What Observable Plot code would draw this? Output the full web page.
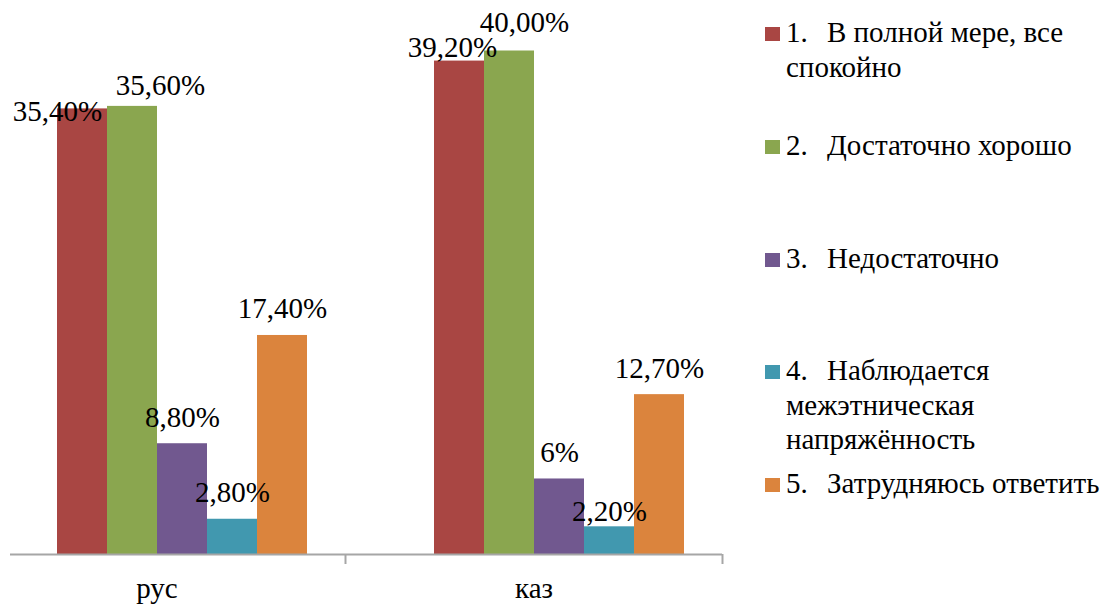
<!DOCTYPE html>
<html><head><meta charset="utf-8">
<script src="https://cdn.jsdelivr.net/npm/d3@7"></script>
<script src="https://cdn.jsdelivr.net/npm/@observablehq/plot@0.6"></script>
<style>
body{margin:0;background:#fff;width:1113px;height:605px;overflow:hidden;position:relative;font-family:"Liberation Serif","Tinos","Times New Roman","DejaVu Serif",serif;}
#chart{position:absolute;left:10px;top:0;}
#legend{position:absolute;left:765px;top:0;}
.item{position:absolute;left:0;width:345px;}
.sw{position:absolute;left:0;top:12px;width:15px;height:14px;}
.ln{position:absolute;font-size:29px;line-height:34.5px;color:#000;white-space:nowrap;}
</style></head><body>
<div id="chart"></div><div id="legend"></div>
<script>
// ---- data ----
const groups = ["рус", "каз"];
const seriesNumbers = ["1.", "2.", "3.", "4.", "5."];
const seriesNames = ["В полной мере, все спокойно", "Достаточно хорошо", "Недостаточно", "Наблюдается межэтническая напряжённость", "Затрудняюсь ответить"];
const rusValues = [35.4, 35.6, 8.8, 2.8, 17.4];
const kazValues = [39.2, 40.0, 6.0, 2.2, 12.7];
const rusLabels = ["35,40%", "35,60%", "8,80%", "2,80%", "17,40%"];
const kazLabels = ["39,20%", "40,00%", "6%", "2,20%", "12,70%"];
const colors = ["#A94643", "#8AA64F", "#71588F", "#4198AF", "#DB843D"];

// ---- layout tweaks for label placement (labels moved by hand in the original) ----
const labelNudges = [
  {group: "рус", series: "1.", dx: -25, dy: 12},
  {group: "рус", series: "2.", dx: 28, dy: -11},
  {group: "каз", series: "1.", dx: -7, dy: -4},
  {group: "каз", series: "2.", dx: 15, dy: -19},
  {group: "каз", series: "4.", dx: 0, dy: -6}
];

const data = [];
seriesNumbers.forEach((s, i) => {
  data.push({group: groups[0], series: s, value: rusValues[i], label: rusLabels[i]});
  data.push({group: groups[1], series: s, value: kazValues[i], label: kazLabels[i]});
});

const font = "'Liberation Serif', Tinos, 'Times New Roman', 'DejaVu Serif', serif";
const fxRange = [-42, 712];
const step = (fxRange[1] - fxRange[0]) / groups.length;
const isNudged = d => labelNudges.some(n => n.group === d.group && n.series === d.series);

const marks = [
  Plot.barY(data, {fx: "group", x: "series", y: "value", fill: "series"}),
  Plot.ruleY([0], {stroke: "#a6a6a6", strokeWidth: 2}),
  Plot.axisFx({anchor: "bottom", tickSize: 0, tickPadding: 23, fontSize: 29, fontFamily: font, fill: "#000", label: null}),
  Plot.axisFx({anchor: "bottom", tickSize: 10, tickFormat: () => "", dx: step / 2, stroke: "#a6a6a6", strokeWidth: 2, label: null}),
  Plot.text(data.filter(d => !isNudged(d)), {fx: "group", x: "series", y: "value", text: "label", lineAnchor: "bottom", dy: -17, fontSize: 29, fontFamily: font, fill: "#000"})
];
labelNudges.forEach(n => {
  marks.push(Plot.text(data.filter(d => d.group === n.group && d.series === n.series),
    {fx: "group", x: "series", y: "value", text: "label", lineAnchor: "bottom", dx: n.dx, dy: n.dy, fontSize: 29, fontFamily: font, fill: "#000"}));
});

const chart = Plot.plot({
  width: 730, height: 605,
  marginLeft: 0, marginRight: 0, marginTop: 50.5, marginBottom: 51,
  style: {overflow: "hidden", background: "white", fontFamily: font},
  fx: {domain: groups, range: fxRange, padding: 0, axis: null, label: null},
  x: {domain: seriesNumbers, range: [89, 339], padding: 0, axis: null},
  y: {domain: [0, 40], axis: null},
  color: {domain: seriesNumbers, range: colors},
  marks
});
document.getElementById("chart").appendChild(chart);

// ---- legend (wrapped into lines: first line after the number, next lines under the number) ----
const ctx = document.createElement("canvas").getContext("2d");
ctx.font = "29px " + font;
const boxWidth = 325, indent = 41, textLeft = 21;
function wrap(text) {
  const words = text.split(" ");
  const lines = [];
  let cur = "";
  words.forEach(w => {
    const trial = cur ? cur + " " + w : w;
    const avail = lines.length === 0 ? boxWidth - indent : boxWidth;
    if (cur && ctx.measureText(trial).width > avail) { lines.push(cur); cur = w; }
    else cur = trial;
  });
  if (cur) lines.push(cur);
  return lines;
}
const legend = document.getElementById("legend");
seriesNumbers.forEach((s, i) => {
  const item = document.createElement("div");
  item.className = "item";
  item.style.top = (15 + i * 112.75) + "px";
  const sw = document.createElement("div");
  sw.className = "sw";
  sw.style.background = colors[i];
  item.appendChild(sw);
  const num = document.createElement("div");
  num.className = "ln";
  num.style.left = textLeft + "px";
  num.style.top = "0px";
  num.textContent = s;
  item.appendChild(num);
  wrap(seriesNames[i]).forEach((line, j) => {
    const el = document.createElement("div");
    el.className = "ln";
    el.style.left = (j === 0 ? textLeft + indent : textLeft) + "px";
    el.style.top = (j * 34.5 + (j === 0 ? 0 : 0)) + "px";
    el.textContent = line;
    item.appendChild(el);
  });
  legend.appendChild(item);
});
</script>
</body></html>
